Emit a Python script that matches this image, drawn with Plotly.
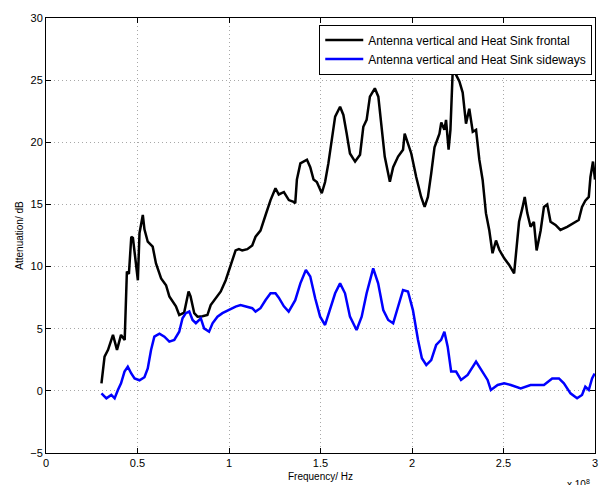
import plotly.graph_objects as go

# Frequency in units of 1e8 Hz
freq_frontal = [0.303, 0.32, 0.339, 0.366, 0.388, 0.41, 0.43, 0.438, 0.442, 0.453, 0.466, 0.475,
                0.496, 0.502, 0.511, 0.529, 0.538, 0.556, 0.583, 0.601, 0.629, 0.656, 0.674, 0.71,
                0.728, 0.755, 0.779, 0.79, 0.81, 0.828, 0.855, 0.882, 0.9, 0.928, 0.955, 0.982,
                1.009, 1.036, 1.054, 1.072, 1.1, 1.127, 1.145, 1.172, 1.2, 1.227, 1.254, 1.272,
                1.3, 1.327, 1.353, 1.362, 1.371, 1.39, 1.426, 1.444, 1.462, 1.48, 1.507, 1.525,
                1.543, 1.562, 1.58, 1.607, 1.625, 1.643, 1.661, 1.689, 1.716, 1.734, 1.752, 1.77,
                1.797, 1.816, 1.833, 1.851, 1.879, 1.897, 1.924, 1.951, 1.96, 1.978, 1.996, 2.023,
                2.05, 2.069, 2.087, 2.105, 2.123, 2.15, 2.16, 2.177, 2.186, 2.2, 2.21, 2.223,
                2.241, 2.259, 2.277, 2.295, 2.313, 2.332, 2.35, 2.368, 2.386, 2.404, 2.422, 2.44,
                2.459, 2.477, 2.504, 2.531, 2.558, 2.567, 2.585, 2.603, 2.616, 2.63, 2.648, 2.666,
                2.681, 2.703, 2.721, 2.739, 2.757, 2.784, 2.811, 2.848, 2.884, 2.911, 2.929, 2.947,
                2.966, 2.975, 2.989, 3.0]
atten_frontal = [0.6, 2.75, 3.3, 4.5, 3.3, 4.5, 4.1, 8.1, 9.6, 9.4, 12.4, 12.3,
                 9.5, 8.9, 12.7, 14.15, 13.0, 12.0, 11.6, 10.25, 9.05, 8.5, 7.6, 6.8,
                 6.1, 6.3, 8.0, 7.6, 6.25, 5.97, 6.0, 6.1, 6.9, 7.45, 8.0, 8.9,
                 10.1, 11.3, 11.4, 11.3, 11.4, 11.7, 12.4, 12.9, 14.15, 15.35, 16.3, 15.8,
                 16.0, 15.35, 15.2, 15.1, 17.0, 18.3, 18.6, 18.0, 17.0, 16.8, 15.9, 16.8,
                 18.3, 20.2, 22.06, 22.86, 22.2, 20.7, 19.1, 18.45, 19.0, 21.25, 21.8, 23.67,
                 24.34, 23.67, 21.25, 18.85, 16.83, 18.0, 18.85, 19.4, 20.7, 19.9, 19.1, 17.2,
                 15.6, 14.8, 15.6, 17.5, 19.6, 20.7, 21.6, 21.0, 21.8, 19.4, 21.0, 25.95,
                 25.4, 24.9, 24.0, 21.5, 22.7, 20.85, 21.0, 18.6, 16.97, 14.3, 12.95, 11.07,
                 12.1, 11.35, 10.66, 10.13, 9.46, 10.8, 13.6, 14.7, 15.6, 14.3, 13.2, 13.6,
                 11.3, 12.9, 14.8, 15.0, 13.6, 13.35, 12.95, 13.2, 13.5, 13.75, 14.8, 15.3,
                 15.6, 17.2, 18.45, 17.0]

freq_sideways = [0.303, 0.33, 0.357, 0.375, 0.393, 0.41, 0.429, 0.447, 0.466, 0.484, 0.511, 0.538,
                 0.556, 0.574, 0.592, 0.62, 0.647, 0.674, 0.701, 0.728, 0.746, 0.764, 0.783, 0.801,
                 0.819, 0.846, 0.864, 0.891, 0.91, 0.937, 0.964, 1.0, 1.036, 1.063, 1.09, 1.127,
                 1.145, 1.172, 1.2, 1.227, 1.254, 1.272, 1.3, 1.326, 1.362, 1.39, 1.42, 1.444,
                 1.471, 1.498, 1.525, 1.552, 1.58, 1.607, 1.634, 1.661, 1.697, 1.725, 1.752, 1.788,
                 1.815, 1.843, 1.87, 1.897, 1.924, 1.951, 1.978, 2.005, 2.033, 2.054, 2.078, 2.105,
                 2.132, 2.159, 2.177, 2.195, 2.214, 2.241, 2.268, 2.304, 2.35, 2.377, 2.413, 2.431,
                 2.468, 2.504, 2.54, 2.594, 2.648, 2.721, 2.766, 2.803, 2.83, 2.866, 2.902, 2.929,
                 2.947, 2.966, 2.984, 2.998]
atten_sideways = [-0.2, -0.6, -0.33, -0.6, 0.07, 0.6, 1.55, 1.95, 1.4, 1.0, 0.85, 1.1,
                  1.8, 3.29, 4.36, 4.6, 4.36, 3.96, 4.1, 4.76, 5.84, 6.25, 6.38, 5.7,
                  5.44, 5.84, 5.03, 4.76, 5.44, 5.97, 6.25, 6.5, 6.78, 6.9, 6.78, 6.65,
                  6.38, 6.65, 7.31, 7.85, 7.85, 7.5, 6.8, 6.38, 7.3, 8.65, 9.73, 9.2,
                  7.45, 5.97, 5.3, 6.5, 7.85, 8.65, 7.85, 5.97, 4.9, 5.97, 7.85, 9.86,
                  8.65, 6.5, 5.7, 5.44, 6.78, 8.12, 8.0, 6.5, 4.1, 2.62, 2.08, 2.48,
                  3.69, 4.1, 4.76, 3.56, 1.55, 1.55, 0.88, 1.28, 2.35, 1.68, 0.88, 0.07,
                  0.47, 0.6, 0.47, 0.2, 0.47, 0.47, 1.0, 1.0, 0.6, -0.2, -0.6, -0.33,
                  0.33, 0.07, 1.0, 1.4]

x_ticks = [0, 0.5, 1, 1.5, 2, 2.5, 3]
x_tick_labels = ["0", "0.5", "1", "1.5", "2", "2.5", "3"]
y_ticks = [-5, 0, 5, 10, 15, 20, 25, 30]

font_family = "Liberation Sans, Arial, sans-serif"

fig = go.Figure()
fig.add_trace(go.Scatter(x=freq_frontal, y=atten_frontal, mode="lines",
                         name="Antenna vertical and Heat Sink frontal",
                         line=dict(color="black", width=2.5)))
fig.add_trace(go.Scatter(x=freq_sideways, y=atten_sideways, mode="lines",
                         name="Antenna vertical and Heat Sink sideways",
                         line=dict(color="#0000ff", width=2.5)))

axis_common = dict(showline=True, linecolor="black", linewidth=1, mirror="ticks",
                   ticks="inside", ticklen=5, tickcolor="black",
                   showgrid=True, gridcolor="#a8a8a8", griddash="1px,3px", gridwidth=1,
                   zeroline=False, ticklabeloverflow="allow",
                   tickfont=dict(size=11, color="black", family=font_family))

fig.update_xaxes(range=[0, 3], tickvals=x_ticks, ticktext=x_tick_labels,
                 title=dict(text="Frequency/ Hz", font=dict(size=10, color="black", family=font_family),
                            standoff=4),
                 **axis_common)
fig.update_yaxes(range=[-5, 30], tickvals=y_ticks,
                 title=dict(text="Attenuation/ dB", font=dict(size=10, color="black", family=font_family),
                            standoff=4),
                 **axis_common)

fig.add_annotation(text="x 10<sup>8</sup>", xref="paper", yref="paper", x=0.995, y=0, xanchor="right",
                   yanchor="top", yshift=-23, showarrow=False,
                   font=dict(size=10, color="black", family=font_family))

fig.update_layout(
    width=601, height=485,
    margin=dict(l=46, r=3, t=18, b=32),
    paper_bgcolor="white", plot_bgcolor="white",
    showlegend=True,
    legend=dict(x=0.995, y=0.985, xanchor="right", yanchor="top",
                bordercolor="black", borderwidth=1, bgcolor="white",
                font=dict(size=12, color="black", family=font_family),
                tracegroupgap=0, itemwidth=38),
)

fig.write_html("out.html")
